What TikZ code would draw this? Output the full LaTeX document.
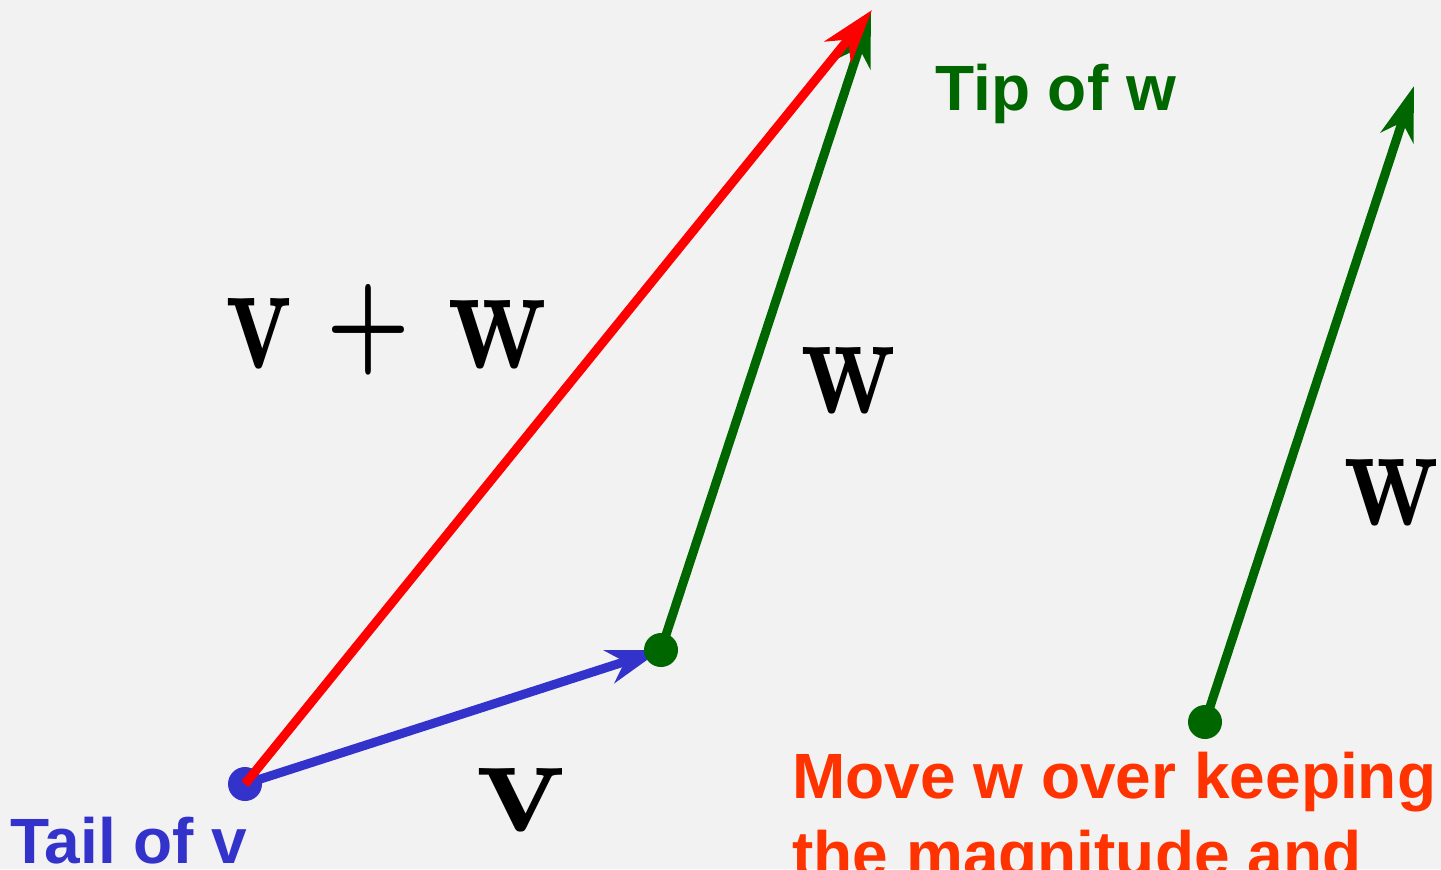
\documentclass[tikz,border=0pt]{standalone}
\usepackage{fontspec}
\usepackage{graphicx}
\usetikzlibrary{arrows.meta}
\newfontfamily\labelsans{Liberation Sans}
\definecolor{bgc}{HTML}{F2F2F2}
\definecolor{vgreen}{HTML}{006600}
\definecolor{vblue}{HTML}{3333CC}
\definecolor{vred}{HTML}{FF0000}
\definecolor{vorange}{HTML}{FF3300}
\begin{document}
\begin{tikzpicture}[x=0.5pt,y=-0.5pt,
  vecarrow/.style={line width=4.5pt,-{Stealth[length=27pt,width=17pt,inset=8pt]}},
  dot/.style={circle,inner sep=0pt,minimum size=17pt,fill=#1},
  caption/.style={inner sep=0pt,anchor=base west,font=\labelsans\bfseries\fontsize{32}{39}\selectfont},
  veclabel/.style={inner sep=0pt,anchor=base west}]
\fill[bgc] (0,0) rectangle (1441,869);
\useasboundingbox (0,0) rectangle (1441,869);

% points
\coordinate (tailv) at (245,784);
\coordinate (tailw) at (661,650);
\coordinate (tipw) at (871,12);
\coordinate (tipsum) at (872,10);
\coordinate (tailw2) at (1205,722);
\coordinate (tipw2) at (1414,86);

% vectors
\draw[vecarrow, vblue] (tailv) -- (tailw);
\draw[vecarrow, vgreen] (tailw) -- (tipw);
\node[dot=vgreen] (dotw) at (tailw) {};
\node[dot=vblue] (dotv) at (tailv) {};
\draw[vecarrow, vred] (tailv) -- (tipsum);
\draw[vecarrow, vgreen] (tailw2) -- (tipw2);
\node[dot=vgreen] (dotw2) at (tailw2) {};

% vector labels
\node[veclabel] (sumv) at (225,368) {\resizebox{33.5pt}{35pt}{\bfseries v}};
\node[inner sep=0pt] (sumplus) at (368.5,329.5) {\resizebox{42pt}{37.5pt}{\bfseries +}};
\node[veclabel] (sumw) at (447,368) {\resizebox{50pt}{34pt}{\bfseries w}};
\node[veclabel] (vlab) at (475,831) {\resizebox{45.5pt}{31.5pt}{\bfseries v}};
\node[veclabel] (wlab) at (800,413) {\resizebox{48pt}{33pt}{\bfseries w}};
\node[veclabel] (wlab2) at (1343,525) {\resizebox{48pt}{33pt}{\bfseries w}};

% captions
\node[caption, text=vgreen] (tiplab) at (935,110) {Tip of w};
\node[caption, text=vblue] (taillab) at (10,863) {Tail of v};
\node[caption, text=vorange, align=left] (movelab) at (792,876) {Move w over keeping\\the magnitude and};
\end{tikzpicture}
\end{document}
